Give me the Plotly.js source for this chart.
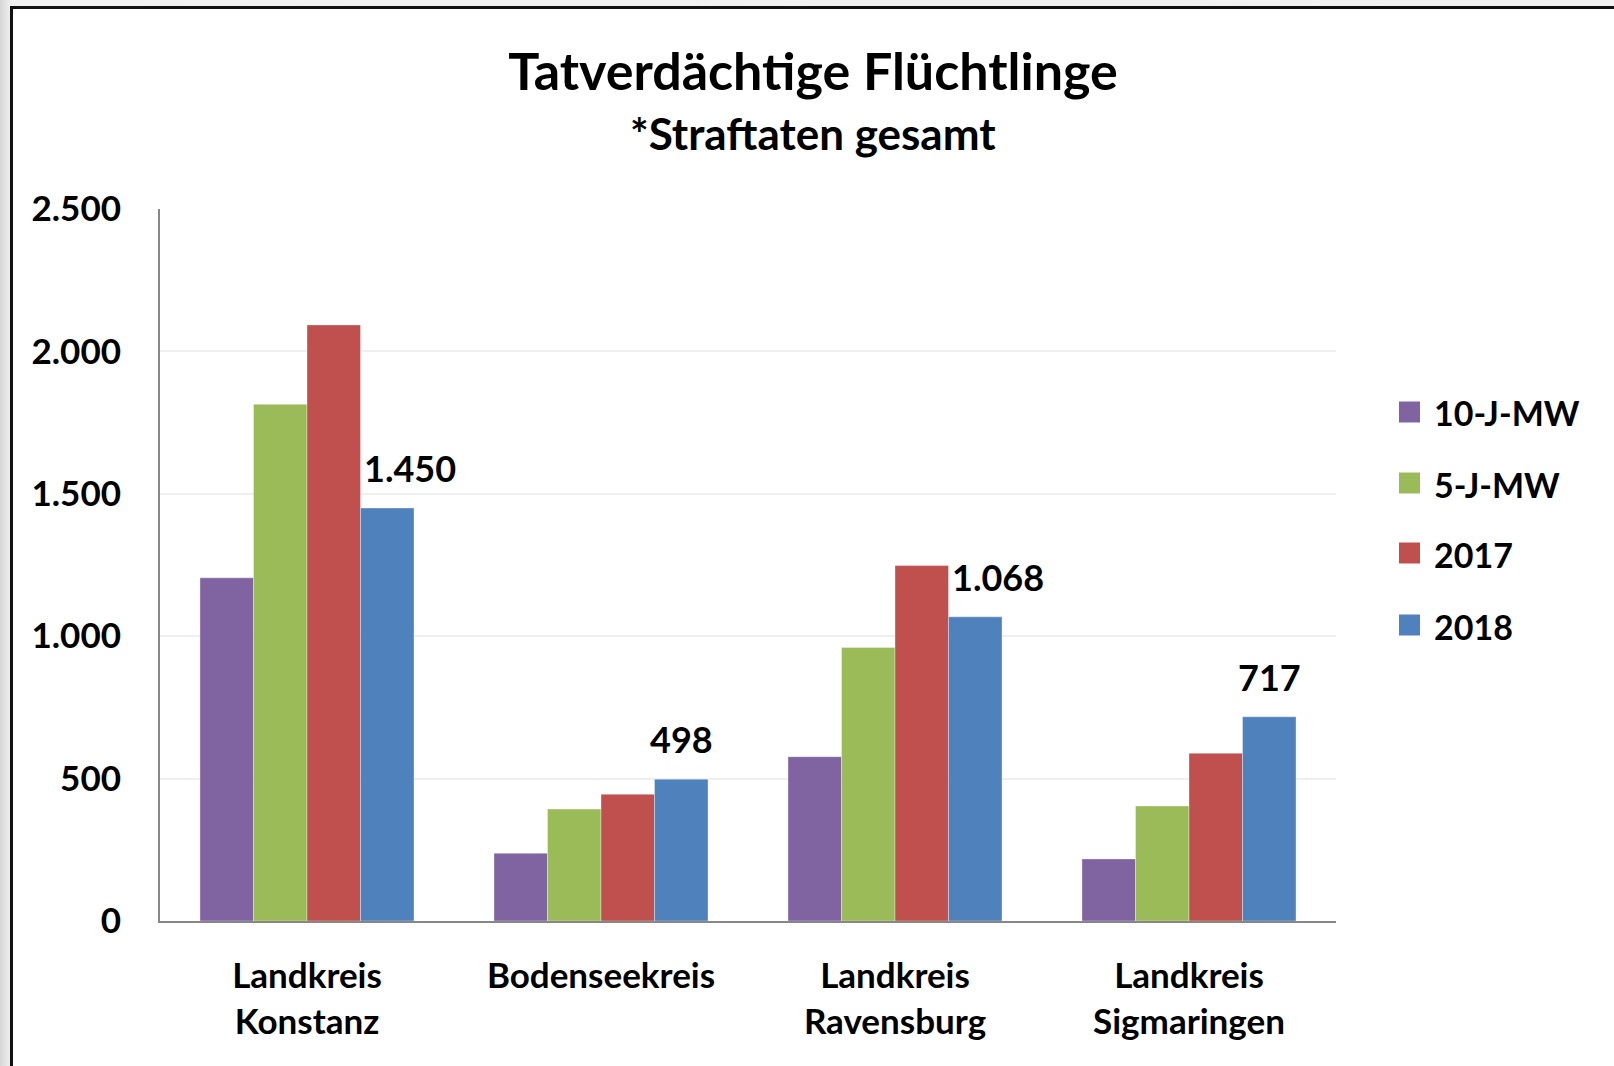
<!DOCTYPE html>
<html>
<head>
<meta charset="utf-8">
<script src="https://cdn.plot.ly/plotly-3.0.1.min.js"></script>
<style>
  html, body { margin: 0; padding: 0; overflow: hidden; width: 1614px; height: 1066px; }
  body { background: linear-gradient(to right, #d6d6d6 0px, #f0f0f0 11px, #f3f3f3 100%); }
  #frame { position: absolute; left: 10px; top: 6px; width: 1610px; height: 1070px; border-left: 3px solid #111; border-top: 3px solid #111; background: #fff; }
  #chart { position: absolute; left: 0; top: 0; }
</style>
</head>
<body>
<div id="frame"><div id="chart"></div></div>
<script>
// ---- data ----
const categories = ["Landkreis<br>Konstanz", "Bodenseekreis", "Landkreis<br>Ravensburg", "Landkreis<br>Sigmaringen"];
const seriesNames = ["10-J-MW", "5-J-MW", "2017", "2018"];
const mw10 = [1205, 238, 577, 218];
const mw5 = [1814, 393, 960, 404];
const y2017 = [2093, 445, 1248, 589];
const y2018 = [1450, 498, 1068, 717];
const yTickVals = [0, 500, 1000, 1500, 2000, 2500];
const titleText = "Tatverdächtige Flüchtlinge";
const subtitleText = "*Straftaten gesamt";

// ---- style ----
const colors = ["#8064A2", "#9BBB59", "#C0504D", "#4F81BD"];
const FONT = "Lato, 'Open Sans', sans-serif";
const seriesValues = [mw10, mw5, y2017, y2018];

function fmt(v) {
  return String(Math.round(v)).replace(/\B(?=(\d{3})+(?!\d))/g, ".");
}

const traces = seriesValues.map((vals, i) => ({
  type: "bar",
  name: seriesNames[i],
  x: categories,
  y: vals,
  marker: { color: colors[i], line: { color: "rgba(255,255,255,0.35)", width: 1 } },
  showlegend: false,
  hoverinfo: "none"
}));

// plot geometry (pixels inside the chart div)
const W = 1610, H = 1060;
const M = { l: 147, r: 287, t: 200, b: 148 };
const plotW = W - M.l - M.r, plotH = H - M.t - M.b;
const bargap = 0.272;
const barW = (1 - bargap) / 4;
const pxToPaperX = px => (px - M.l) / plotW;
const pxToPaperY = py => 1 - (py - M.t) / plotH;

const annotations = [];
// data labels on 2018 bars
y2018.forEach((v, i) => {
  const center = i - (1 - bargap) / 2 + barW * 3.5;
  const left = center - barW / 2;
  const long = v >= 1000;
  annotations.push({
    x: long ? left : center, y: v, xref: "x", yref: "y",
    text: fmt(v), showarrow: false,
    xanchor: long ? "left" : "center", yanchor: "middle",
    xshift: long ? 1 : 0, yshift: 40,
    font: { family: FONT, size: 36, color: "#000", weight: 700 }
  });
});

// subtitle
annotations.push({
  xref: "paper", yref: "paper",
  x: pxToPaperX(800), y: pxToPaperY(124),
  xanchor: "center", yanchor: "middle", showarrow: false,
  text: subtitleText,
  font: { family: FONT, size: 44, color: "#000", weight: 700 }
});

// custom legend
const shapes = [];
const legRows = [412, 483, 553, 625].map(py => py - 9); // page px -> div px
seriesNames.forEach((name, i) => {
  const cy = legRows[i];
  shapes.push({
    type: "rect", xref: "paper", yref: "paper",
    x0: pxToPaperX(1399 - 13), x1: pxToPaperX(1420 - 13),
    y0: pxToPaperY(cy + 10.5), y1: pxToPaperY(cy - 10.5),
    fillcolor: colors[i], line: { width: 0 }
  });
  annotations.push({
    xref: "paper", yref: "paper",
    x: pxToPaperX(1432 - 13), y: pxToPaperY(cy + 1),
    xanchor: "left", yanchor: "middle", showarrow: false,
    text: name,
    font: { family: FONT, size: 34, color: "#000", weight: 700 }
  });
});

const layout = {
  width: W, height: H,
  margin: M,
  paper_bgcolor: "rgba(0,0,0,0)",
  plot_bgcolor: "#fff",
  separators: ",.",
  barmode: "group",
  bargap: bargap,
  bargroupgap: 0,
  showlegend: false,
  title: {
    text: titleText,
    x: 800 / W, xanchor: "center", xref: "container",
    y: 1 - 63 / H, yanchor: "middle", yref: "container",
    font: { family: FONT, size: 52, color: "#000", weight: 700 }
  },
  xaxis: {
    type: "category",
    showline: true, linecolor: "#878787", linewidth: 2,
    showgrid: false, zeroline: false,
    ticks: "", ticklabelstandoff: 23,
    tickfont: { family: FONT, size: 35, color: "#000", weight: 700 },
    fixedrange: true
  },
  yaxis: {
    range: [0, 2500],
    tickvals: yTickVals,
    tickformat: ",d",
    showline: true, linecolor: "#878787", linewidth: 2,
    showgrid: true, gridcolor: "#efefef", gridwidth: 2,
    zeroline: false,
    ticks: "", ticklabelstandoff: 30,
    tickfont: { family: FONT, size: 35, color: "#000", weight: 700 },
    fixedrange: true
  },
  shapes: shapes,
  annotations: annotations
};

Plotly.newPlot("chart", traces, layout, { displayModeBar: false, staticPlot: true });
</script>
</body>
</html>
